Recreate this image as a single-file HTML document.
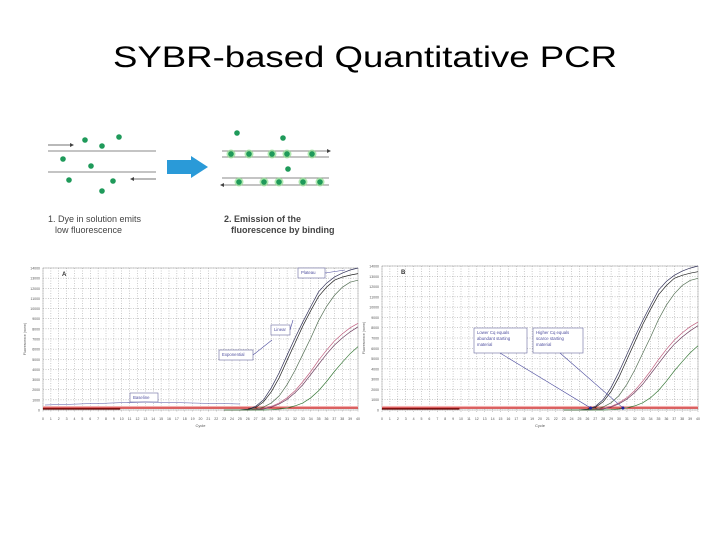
<!DOCTYPE html>
<html><head><meta charset="utf-8"><style>
html,body{margin:0;padding:0;background:#fff;}
svg{display:block;font-family:"Liberation Sans",sans-serif;}
</style></head><body>
<svg id="s" width="720" height="540" viewBox="0 0 720 540" xmlns="http://www.w3.org/2000/svg">
<text x="113" y="67" font-size="30" textLength="504" lengthAdjust="spacingAndGlyphs" fill="#000">SYBR-based Quantitative PCR</text>
<g id="diagram">
<line x1="48" y1="151" x2="156" y2="151" stroke="#888" stroke-width="1"/>
<line x1="48" y1="172" x2="156" y2="172" stroke="#888" stroke-width="1"/>
<line x1="48" y1="145" x2="71" y2="145" stroke="#444" stroke-width="0.8"/>
<polygon points="74,145 70,143 70,147" fill="#444"/>
<line x1="133" y1="179" x2="156" y2="179" stroke="#444" stroke-width="0.8"/>
<polygon points="130,179 134,177 134,181" fill="#444"/>
<polygon points="167,160 191,160 191,156 208,167 191,178 191,174 167,174" fill="#2a9ad8"/>
<line x1="222" y1="151" x2="329" y2="151" stroke="#888"/>
<line x1="222" y1="157" x2="329" y2="157" stroke="#888"/>
<polygon points="331,151 327,149 327,153" fill="#444"/>
<line x1="222" y1="178" x2="329" y2="178" stroke="#888"/>
<line x1="222" y1="185" x2="329" y2="185" stroke="#888"/>
<polygon points="220,185 224,183 224,187" fill="#444"/>
<text x="48" y="222" font-size="9" fill="#444">1. Dye in solution emits</text>
<text x="55" y="233" font-size="9" fill="#444">low fluorescence</text>
<text x="224" y="222" font-size="9" font-weight="bold" fill="#444">2. Emission of the</text>
<text x="231" y="233" font-size="9" font-weight="bold" fill="#444">fluorescence by binding</text>
</g>
<g id="chartA"></g>
<g id="chartB"></g>
</svg>
<script>
const cycles=[24,25,26,27,28,29,30,31,32,33,34,35,36,37,38,39,40];
const curve1=[0,20,80,350,1000,2200,3700,5400,7100,8700,10200,11650,12500,13100,13500,13800,14000];
const curve2=[0,10,50,250,800,1800,3200,4900,6600,8300,9800,11200,12100,12800,13100,13300,13450];
const curve3=[0,0,20,100,300,700,1400,2500,3900,5500,7100,8800,10200,11300,12100,12600,12800];
const curve4=[0,0,0,50,150,350,700,1200,1900,2800,3800,4900,5900,6800,7500,8100,8550];
const curve5=[0,0,0,30,100,280,600,1050,1700,2500,3500,4500,5500,6400,7100,7700,8200];
const curve6=[0,0,0,0,0,30,100,200,400,700,1200,1900,2800,3800,4700,5550,6250];
const series=[curve1,curve2,curve3,curve4,curve5,curve6];
const colors=["#33335a","#222","#557055","#c06080","#704060","#3a7a3a"];
const yTicks=[0,1000,2000,3000,4000,5000,6000,7000,8000,9000,10000,11000,12000,13000,14000];
const xTicks=[0,1,2,3,4,5,6,7,8,9,10,11,12,13,14,15,16,17,18,19,20,21,22,23,24,25,26,27,28,29,30,31,32,33,34,35,36,37,38,39,40];
const threshold=200;
const NS="http://www.w3.org/2000/svg";
function mk(p,t,a){const e=document.createElementNS(NS,t);for(const k in a)e.setAttribute(k,a[k]);p.appendChild(e);return e;}
function drawChart(g,L,R,T,B,label,pre){
 const x=c=>L+(c/40)*(R-L), y=v=>B-(v/14000)*(B-T);
 yTicks.forEach(v=>{const l=mk(g,'line',{x1:L,x2:R,y1:y(v),y2:y(v),stroke:'#999','stroke-width':0.5,'stroke-dasharray':'1,1.5'});
  
  const t=mk(g,'text',{x:L-3,y:y(v)+1.5,'font-size':3.5,'text-anchor':'end',fill:'#555'});t.textContent=v;
  });
 xTicks.forEach(c=>{const l=mk(g,'line',{x1:x(c),x2:x(c),y1:T,y2:B+3,stroke:'#999','stroke-width':0.5,'stroke-dasharray':'1,1.5'});
  
  const t=mk(g,'text',{x:x(c),y:B+10,'font-size':3.5,'text-anchor':'middle',fill:'#555'});t.textContent=c;
  });
 const f=mk(g,'rect',{x:L,y:T,width:R-L,height:B-T,fill:'none',stroke:'#999','stroke-width':0.5});
 
 const xt=mk(g,'text',{x:(L+R)/2,y:B+17,'font-size':4,'text-anchor':'middle',fill:'#555'});xt.textContent='Cycle';
 
 const yt=mk(g,'text',{x:0,y:0,'font-size':3.5,'text-anchor':'middle',fill:'#555',transform:`translate(${L-17},${(T+B)/2}) rotate(-90)`});yt.textContent='Fluorescence (norm)';
 
 const band=mk(g,'rect',{x:L,y:y(threshold)-2,width:R-L,height:3,fill:'#f4b0b0'});
 
 const th=mk(g,'line',{x1:L,x2:R,y1:y(threshold),y2:y(threshold),stroke:'#c01010','stroke-width':1});
 
 const bl=mk(g,'line',{x1:L,x2:x(9.8),y1:y(threshold)+1,y2:y(threshold)+1,stroke:'#701010','stroke-width':1.4});
 
 series.forEach((s,i)=>{let d='M'+x(23)+','+y(0);s.forEach((v,j)=>{d+=' L'+x(cycles[j]).toFixed(1)+','+y(v).toFixed(1);});
  const p=mk(g,'path',{d:d,fill:'none',stroke:colors[i],'stroke-width':0.7});
  });
 const lb=mk(g,'text',{x:L+19,y:T+8,'font-size':6,'font-weight':'bold',fill:'#333'});lb.textContent=label;
 
 return {x,y};
}
function box(g,x0,y0,w,h,lines,name){const r=mk(g,'rect',{x:x0,y:y0,width:w,height:h,fill:'#fff',stroke:'#6a6aa0','stroke-width':0.6});
 
 lines.forEach((s,i)=>{const t=mk(g,'text',{x:x0+3,y:y0+6+i*6,'font-size':4.3,fill:'#5050a0'});t.textContent=s;
  });}
function ln(g,x1,y1,x2,y2,name){const l=mk(g,'line',{x1,y1,x2,y2,stroke:'#5050a0','stroke-width':0.6});
 }
const gA=document.getElementById('chartA');
const A=drawChart(gA,43,358,268,410,'A','a-');
box(gA,298,268,27,10,['Plateau'],'plateau-callout');ln(gA,325,273,345,270,'plateau-arrow');
box(gA,271,325,19,10,['Linear'],'linear-callout');ln(gA,290,330,293,320,'linear-arrow');
box(gA,219,350,34,10,['Exponential'],'exponential-callout');ln(gA,253,355,272,340,'exponential-arrow');
box(gA,130,393,28,9,['Baseline'],'baseline-callout');
ln(gA,45,405,145,402,'baseline-brace');ln(gA,145,402,240,404,'baseline-brace-right');
const gB=document.getElementById('chartB');
const Bc=drawChart(gB,382,698,266,410,'B','b-');
box(gB,474,328,53,25,['Lower Cq equals','abundant starting','material'],'lower-cq-callout');
box(gB,533,328,50,25,['Higher Cq equals','scarce starting','material'],'higher-cq-callout');
ln(gB,500,353,Bc.x(26.4),Bc.y(threshold),'lower-cq-arrow');ln(gB,560,353,Bc.x(30.5),Bc.y(threshold),'higher-cq-arrow');
[26.4,30.5].forEach(c=>{const m=mk(gB,'circle',{cx:Bc.x(c),cy:Bc.y(threshold),r:1.5,fill:'#2020a0'});
 });
const dg=document.getElementById('diagram');
[[85,140],[102,146],[119,137],[63,159],[91,166],[69,180],[113,181],[102,191],[237,133],[283,138],[288,169]].forEach(p=>{
 const c=mk(dg,'circle',{cx:p[0],cy:p[1],r:2.8,fill:'#1f9a5a'});
 });
[[231,154],[249,154],[272,154],[287,154],[312,154],[239,182],[264,182],[279,182],[303,182],[320,182]].forEach(p=>{
 const c=mk(dg,'circle',{cx:p[0],cy:p[1],r:4.5,fill:'#8fe08f',opacity:0.7});
 
 const d=mk(dg,'circle',{cx:p[0],cy:p[1],r:2.8,fill:'#1f9a5a'});
 });
</script>
</body></html>
